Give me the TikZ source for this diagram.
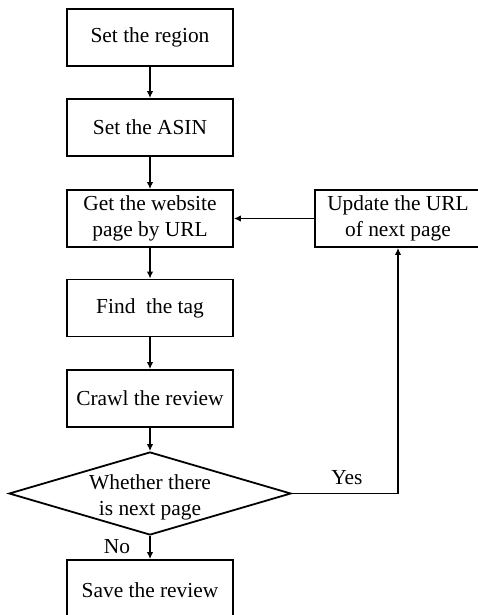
\documentclass[tikz,border=0pt]{standalone}
\usepackage{fontspec}
\setmainfont{Liberation Serif}
\usetikzlibrary{shapes.geometric,arrows.meta}
\begin{document}
\begin{tikzpicture}[x=1pt,y=-1pt,
  every node/.style={font=\fontsize{21.4}{26}\selectfont},
  procbox/.style={draw,line width=1.8pt,minimum width=166pt,minimum height=57pt,inner sep=0pt,align=center},
  decision/.style={draw,line width=1.8pt,diamond,aspect=3.4,minimum width=282pt,minimum height=83pt,inner sep=0pt,align=center},
  flow/.style={line width=1.8pt,-{Latex[length=7pt,width=6.5pt]}},
  lbl/.style={inner sep=0pt}]
\useasboundingbox (0,0) rectangle (478,615);
\clip (0,0) rectangle (478,615);
\node[procbox] (region) at (150,37.5) {Set the region};
\node[procbox] (asin) at (150,127.5) {Set the ASIN};
\node[procbox] (get) at (150,218.5) {Get the website\\page by URL};
\node[procbox] (tag) at (150,308) {Find\ \ the tag};
\node[procbox] (crawl) at (150,398.5) {Crawl the review};
\node[decision] (next) at (150,493.5) {};
\node[lbl,align=center] (nexttext) at (150,497) {Whether there\\is next page};
\node[procbox,minimum height=60pt] (save) at (150,590) {Save the review};
\node[procbox] (update) at (398,218.5) {Update the URL\\of next page};
\draw[flow] (region) -- (asin);
\draw[flow] (asin) -- (get);
\draw[flow] (get) -- (tag);
\draw[flow] (tag) -- (crawl);
\draw[flow] (crawl) -- (next);
\draw[flow] (next) -- (save);
\draw[flow] (next.east) -| (update.south);
\draw[flow] (update.west) -- (get.east);
\node[lbl] (yes) at (347,478) {Yes};
\node[lbl] (no) at (117,547) {No};
\end{tikzpicture}
\end{document}
